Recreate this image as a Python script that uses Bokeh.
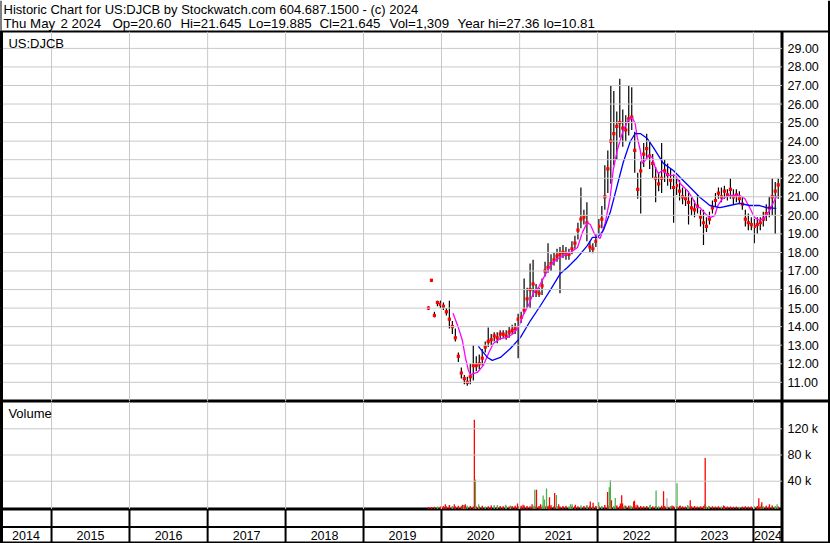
import pandas as pd
from bokeh.plotting import figure
from bokeh.layouts import column, row
from bokeh.models import Range1d, Span, Label
from bokeh.core.properties import value
from bokeh.embed import file_html
from bokeh.resources import INLINE

# ---------------- data ----------------
header1 = "Historic Chart for US:DJCB by Stockwatch.com 604.687.1500 - (c) 2024"
header2_parts = ["Thu May", "2 2024", "Op=20.60", "Hi=21.645", "Lo=19.885", "Cl=21.645",
                 "Vol=1,309", "Year hi=27.36", "lo=10.81"]
symbol = "US:DJCB"
volume_title = "Volume"

price_dates = pd.date_range("2019-11-01", periods=118, freq="14D")
close = [
    15.0, 16.5, 14.6, 15.3, 15.2, 15.1, 14.8, 14.4, 14.0, 13.4,
    12.4, 11.5, 11.2, 11.0, 11.3, 11.9, 11.9, 12.0, 12.3, 12.9,
    13.2, 13.3, 13.5, 13.4, 13.6, 13.6, 13.5, 13.7, 13.8, 13.9,
    14.4, 14.5, 14.9, 15.5, 16.0, 16.3, 15.9, 15.8, 16.2, 17.0,
    17.2, 17.4, 17.6, 17.8, 17.9, 18.0, 17.9, 17.9, 18.2, 18.5,
    19.2, 19.8, 19.9, 19.6, 18.3, 18.2, 18.6, 19.4, 19.8, 21.0,
    22.5, 24.0, 24.4, 24.8, 25.0, 24.7, 24.6, 25.2, 25.3, 23.5,
    21.4, 22.4, 23.3, 23.6, 23.2, 22.8, 22.0, 21.7, 22.0, 22.4,
    22.2, 21.9, 21.5, 21.6, 21.3, 21.0, 20.9, 20.7, 20.4, 20.3,
    20.5, 19.9, 19.6, 19.4, 19.8, 20.4, 20.8, 21.2, 21.0, 21.3,
    21.1, 21.4, 21.0, 21.1, 20.9, 20.6, 19.8, 19.6, 19.5, 19.4,
    19.5, 19.6, 19.8, 20.1, 20.4, 21.0, 21.3, 21.645]
high = [
    15.1, 16.5, 14.8, 15.4, 15.4, 15.3, 15.0, 15.4, 14.3, 13.9,
    12.6, 11.8, 11.4, 11.3, 12.0, 13.0, 12.4, 12.5, 12.8, 13.2,
    13.95, 13.6, 13.7, 13.7, 13.8, 13.8, 13.8, 14.0, 14.1, 14.2,
    14.7, 14.8, 16.6, 16.1, 17.4, 17.6, 16.3, 16.1, 16.6, 17.5,
    18.5, 17.9, 18.0, 18.2, 18.3, 18.4, 18.3, 18.2, 18.6, 18.9,
    19.6, 21.5, 20.3, 20.7, 18.6, 18.5, 19.0, 19.8, 20.5, 22.7,
    23.5, 27.0, 26.7, 25.6, 27.36, 25.7, 25.4, 27.0, 26.9, 24.5,
    22.3, 22.9, 23.9, 24.4, 24.0, 23.3, 22.6, 22.3, 23.9, 23.0,
    22.8, 22.5, 22.2, 22.0, 21.9, 21.5, 21.4, 21.3, 21.0, 20.8,
    21.1, 20.3, 20.3, 19.9, 20.2, 20.8, 21.2, 21.5, 21.5, 21.6,
    21.4, 22.0, 21.4, 21.4, 21.3, 21.0, 20.3, 20.1, 19.9, 19.8,
    19.9, 19.9, 20.2, 20.6, 21.0, 22.0, 21.8, 22.0]
low = [
    14.9, 16.4, 14.5, 15.1, 15.0, 14.9, 14.6, 13.9, 13.6, 13.2,
    12.1, 11.2, 10.9, 10.81, 10.9, 11.1, 11.6, 11.7, 11.9, 12.6,
    12.9, 13.0, 13.2, 13.1, 13.3, 13.4, 13.3, 13.4, 13.6, 13.6,
    12.3, 14.2, 14.7, 15.0, 15.0, 15.6, 15.6, 15.6, 15.7, 16.7,
    16.9, 17.0, 17.3, 17.5, 15.8, 17.7, 17.6, 17.6, 17.9, 18.2,
    18.7, 19.3, 19.5, 18.6, 18.0, 17.95, 18.3, 19.0, 19.3, 20.3,
    21.2, 21.7, 22.7, 23.0, 24.2, 23.7, 24.0, 24.3, 24.6, 22.3,
    20.9, 20.1, 22.6, 23.0, 22.5, 22.0, 20.7, 21.3, 21.2, 21.8,
    21.6, 21.4, 19.6, 21.1, 20.8, 20.6, 20.5, 19.5, 20.0, 19.9,
    20.1, 19.4, 18.4, 19.1, 19.5, 20.1, 20.5, 20.9, 20.7, 20.9,
    20.8, 20.9, 20.6, 20.7, 20.6, 20.3, 19.4, 19.2, 19.2, 18.5,
    19.0, 19.2, 19.4, 19.7, 19.9, 20.0, 19.0, 20.9]
base_volume_k = [
    0.8, 0.5, 1.0, 1.2, 1.5, 2.0, 1.8, 3.5, 2.2, 1.6,
    2.5, 1.8, 3.0, 2.4, 2.0, 1.5, 1.2, 1.8, 2.6, 1.4,
    1.9, 2.8, 3.2, 1.5, 2.2, 1.7, 2.5, 1.3, 2.0, 2.4,
    1.8, 2.6, 3.0, 2.2, 1.9, 2.5, 1.6, 2.1, 2.8, 1.7,
    2.4, 3.3, 1.8, 2.2, 1.5, 2.0, 2.6, 1.4, 1.9, 2.3,
    1.6, 2.8, 2.1, 3.0, 2.4, 1.8, 2.2, 2.6, 2.0, 3.5,
    2.8, 3.6, 2.4, 3.0, 2.2, 1.9, 2.7, 2.4, 1.8, 3.1,
    2.5, 2.0, 1.7, 2.3, 2.8, 1.6, 2.1, 1.9, 2.6, 2.2,
    1.5, 2.0, 1.8, 1.4, 2.2, 1.7, 1.3, 1.9, 1.6, 2.1,
    1.4, 1.8, 2.3, 1.5, 1.2, 1.7, 1.4, 1.9, 1.3, 1.6,
    1.2, 1.5, 1.1, 1.4, 1.0, 1.3, 1.6, 1.2, 1.4, 1.8,
    2.2, 1.5, 1.9, 2.4, 1.7, 2.8, 2.0, 1.3]
base_dir = list(
    "ddduddddud" "dddudddddu" "dduddduddd" "udddduddud" "dddudddudd"
    "duddduddud" "ddudduddud" "dddduddudd" "dudddddudd" "ddduddddud"
    "dddduddddu" "ddudddud")

spike_dates = [
    "2020-01-19", "2020-03-01", "2020-04-08", "2020-04-14", "2020-04-22",
    "2020-06-03", "2020-06-08", "2020-06-23", "2020-09-19", "2020-10-27",
    "2020-11-19", "2020-12-22", "2021-01-17", "2021-02-28", "2021-03-13",
    "2021-03-21", "2021-04-09", "2021-04-21", "2021-04-27", "2021-05-07",
    "2021-05-21", "2021-06-14", "2021-06-22", "2021-07-03", "2021-08-27",
    "2021-09-04", "2021-09-19", "2021-11-13", "2021-11-28", "2021-12-11",
    "2022-01-06", "2022-02-17", "2022-02-25", "2022-03-02", "2022-03-07",
    "2022-03-25", "2022-04-18", "2022-04-24", "2022-04-28", "2022-05-08",
    "2022-06-03", "2022-06-19", "2022-06-23", "2022-07-05", "2022-09-05",
    "2022-10-02", "2022-11-06", "2022-11-22", "2022-12-16", "2023-01-08",
    "2023-01-23", "2023-02-27", "2023-03-11", "2023-05-17", "2023-05-20",
    "2023-06-05", "2023-08-14", "2024-01-26", "2024-02-07", "2024-02-09",
    "2024-03-16", "2024-04-21"]
spike_volume_k = [
    5, 5, 4, 3.5, 5,
    134, 42.6, 5, 3.5, 4,
    3, 6, 4, 5, 27,
    27, 5, 18, 12, 28.7,
    15.4, 22, 19, 5, 5,
    5, 4, 3, 9.2, 7,
    7.7, 23.5, 30.7, 41.5, 11,
    14.3, 6, 18.5, 6, 3,
    3, 9, 10, 4, 4,
    26, 24.6, 13.8, 3, 36.9,
    3, 3.5, 10.8, 5, 75.4,
    2.5, 3, 13.8, 5, 8,
    5, 5]
spike_dir = list(
    "dddud" "duuuu" "udddu" "dduuu" "ddudu" "ududd" "uduud" "udddu"
    "udddu" "udfdu" "dudud" "uddud" "du")

# moving averages
ma_short_dates = [
    "2020-02-24", "2020-03-20", "2020-04-08", "2020-04-22", "2020-05-06", "2020-05-15",
    "2020-06-17", "2020-07-15", "2020-08-08", "2020-08-31", "2020-10-03", "2020-11-05",
    "2020-12-03", "2020-12-26", "2021-01-19", "2021-02-11", "2021-03-06", "2021-03-30",
    "2021-04-22", "2021-05-16", "2021-06-08", "2021-07-11", "2021-08-27", "2021-09-29",
    "2021-10-22", "2021-11-14", "2021-11-28", "2021-12-21", "2022-01-13", "2022-02-06",
    "2022-03-01", "2022-03-15", "2022-04-03", "2022-05-01", "2022-05-24", "2022-06-12",
    "2022-06-26", "2022-07-06", "2022-07-20", "2022-07-29", "2022-08-12", "2022-08-26",
    "2022-09-14", "2022-09-28", "2022-10-12", "2022-10-31", "2022-11-14", "2022-11-28",
    "2022-12-31", "2023-01-23", "2023-02-25", "2023-03-20", "2023-04-12", "2023-04-26",
    "2023-05-19", "2023-06-11", "2023-07-04", "2023-07-18", "2023-08-10", "2023-09-12",
    "2023-10-29", "2023-11-21", "2023-12-14", "2024-01-06", "2024-01-30", "2024-02-22",
    "2024-03-16", "2024-04-08", "2024-04-22"]
ma_short = [
    14.72, 13.95, 13.25, 12.34, 11.64, 11.42, 11.53, 11.91, 12.55, 13.09,
    13.36, 13.42, 13.63, 13.95, 14.65, 15.14, 15.79, 16.11, 16.60, 17.13,
    17.51, 17.73, 18.00, 18.27, 19.08, 19.61, 19.51, 18.91, 18.75, 19.61,
    20.96, 22.42, 23.50, 24.57, 25.11, 25.27, 24.95, 24.20, 23.50, 22.80,
    22.96, 23.23, 23.12, 22.58, 22.26, 22.42, 22.31, 22.15, 22.15, 21.72,
    21.34, 20.96, 20.42, 20.42, 20.10, 19.88, 19.99, 20.53, 20.91, 21.07,
    21.07, 20.91, 20.42, 19.88, 19.72, 19.88, 20.26, 20.80, 21.07]
ma_long_dates = [
    "2020-06-22", "2020-08-03", "2020-08-26", "2020-10-03", "2020-11-19", "2021-01-05",
    "2021-02-21", "2021-04-09", "2021-05-26", "2021-07-11", "2021-08-13", "2021-09-29",
    "2021-11-14", "2021-12-08", "2021-12-31", "2022-01-28", "2022-03-01", "2022-04-03",
    "2022-05-01", "2022-06-03", "2022-06-26", "2022-07-20", "2022-08-22", "2022-09-19",
    "2022-11-05", "2022-12-22", "2023-01-23", "2023-03-11", "2023-04-26", "2023-06-11",
    "2023-07-28", "2023-09-12", "2023-10-29", "2023-12-14", "2024-01-30", "2024-03-02",
    "2024-04-17"]
ma_long = [
    12.94, 12.34, 12.18, 12.34, 12.82, 13.42, 14.33, 15.14, 16.00, 16.87,
    17.19, 17.73, 18.37, 18.81, 18.81, 19.18, 20.15, 21.61, 22.85, 23.98,
    24.41, 24.41, 24.14, 23.66, 22.80, 22.42, 22.04, 21.50, 20.96, 20.53,
    20.42, 20.53, 20.64, 20.53, 20.53, 20.42, 20.37]

price_ticks = [29, 28, 27, 26, 25, 24, 23, 22, 21, 20, 19, 18, 17, 16, 15, 14, 13, 12, 11]
price_tick_labels = ["29.00", "28.00", "27.00", "26.00", "25.00", "24.00", "23.00", "22.00",
                     "21.00", "20.00", "19.00", "18.00", "17.00", "16.00", "15.00", "14.00",
                     "13.00", "12.00", "11.00"]
volume_ticks = [120000, 80000, 40000]
volume_tick_labels = ["120 k", "80 k", "40 k"]
years = [2014, 2015, 2016, 2017, 2018, 2019, 2020, 2021, 2022, 2023, 2024]
year_labels = ["2014", "2015", "2016", "2017", "2018", "2019", "2020", "2021", "2022", "2023", "2024"]

# ---------------- layout / style ----------------
FONT_NAME = "Liberation Sans"
FONT = value(FONT_NAME)
MAIN_W, AX_W = 782, 48
HDR_H, PRICE_H, VOL_H, YEAR_H = 31, 370, 108, 34
GRID = "#c8c8c8"
RED, GREEN, GRAY = "#ff0000", "#4cb04c", "#a8a8a8"
DIR_COLOR = {"u": GREEN, "d": RED, "f": GRAY}
DAY = 86400000
# left edges (px) of the fields of the second header line
header2_x = [3, 60, 112, 180, 248, 319, 389, 457, 543]

x_start = pd.Timestamp("2014-05-07")
x_end = pd.Timestamp("2024-05-16")
xr = Range1d(x_start, x_end)
price_yr = Range1d(9.965, 29.91)
vol_yr = Range1d(-3200, 161700)
x0_ms = x_start.timestamp() * 1000
label_x = x0_ms + 37 * DAY

common = dict(toolbar_location=None, output_backend="svg", min_border=0,
              background_fill_color="white", border_fill_color="white",
              outline_line_color="black", outline_line_width=2)

year_bounds = [pd.Timestamp(f"{y}-01-01") for y in years[1:]]

def add_grids(p, yticks):
    for b in year_bounds:
        p.add_layout(Span(location=b.timestamp() * 1000, dimension="height",
                          line_color=GRID, line_width=1))
    for t in yticks:
        p.add_layout(Span(location=t, dimension="width", line_color=GRID, line_width=1))

def left_edge(p):
    p.add_layout(Span(location=x0_ms, dimension="height", line_color="black", line_width=5))

# header
hdr = figure(width=MAIN_W + AX_W, height=HDR_H, x_range=Range1d(0, MAIN_W + AX_W),
             y_range=Range1d(0, HDR_H), x_axis_location=None, y_axis_location=None, **common)
hdr.outline_line_color = None
hdr.grid.visible = False
hdr.text(x=[3], y=[HDR_H - 9], text=[header1],
         text_font=FONT, text_font_size="13px", text_baseline="middle", text_color="black")
hdr.text(x=header2_x, y=[HDR_H - 23] * len(header2_parts), text=header2_parts,
         text_font=FONT, text_font_size="13.3px", text_baseline="middle", text_color="black")
hdr.add_layout(Span(location=0, dimension="height", line_color="black", line_width=2))
hdr.add_layout(Span(location=MAIN_W + AX_W, dimension="height", line_color="black", line_width=5))
hdr.add_layout(Span(location=0, dimension="width", line_color="black", line_width=2))

# price panel
pp = figure(width=MAIN_W, height=PRICE_H, x_range=xr, y_range=price_yr, x_axis_type="datetime",
            x_axis_location=None, y_axis_location=None, **common)
pp.grid.visible = False
add_grids(pp, price_ticks)
left_edge(pp)
pp.segment(x0=price_dates, y0=low, x1=price_dates, y1=high, line_color="black", line_width=1.2)
pp.scatter(x=price_dates, y=close, marker="square", size=3.2, fill_color=RED, line_color=None)
pp.line(x=pd.to_datetime(ma_short_dates), y=ma_short, line_color="#ff00ff", line_width=1.3)
pp.line(x=pd.to_datetime(ma_long_dates), y=ma_long, line_color="#0000ff", line_width=1.3)
pp.add_layout(Label(x=label_x, y=29.26, text=symbol, text_font=FONT_NAME,
                    text_font_size="13px", text_baseline="middle", text_color="black"))

pax = figure(width=AX_W, height=PRICE_H, x_range=Range1d(0, AX_W), y_range=price_yr,
             x_axis_location=None, y_axis_location=None, **common)
pax.grid.visible = False
pax.add_layout(Span(location=AX_W, dimension="height", line_color="black", line_width=5))
pax.text(x=[5] * len(price_ticks), y=price_ticks, text=price_tick_labels, text_font=FONT,
         text_font_size="12.5px", text_baseline="middle", text_align="left", text_color="black")

# volume panel
vp = figure(width=MAIN_W, height=VOL_H, x_range=xr, y_range=vol_yr, x_axis_type="datetime",
            x_axis_location=None, y_axis_location=None, **common)
vp.grid.visible = False
add_grids(vp, volume_ticks)
left_edge(vp)
vp.vbar(x=price_dates, bottom=vol_yr.start, top=[v * 1000 for v in base_volume_k], width=7 * DAY,
        fill_color=[DIR_COLOR[d] for d in base_dir], line_color=None)
vp.vbar(x=pd.to_datetime(spike_dates), bottom=vol_yr.start, top=[v * 1000 for v in spike_volume_k],
        width=6 * DAY, fill_color=[DIR_COLOR[d] for d in spike_dir], line_color=None)
vp.add_layout(Label(x=label_x, y=143500, text=volume_title, text_font=FONT_NAME,
                    text_font_size="13px", text_baseline="middle", text_color="black"))

# year strip
yp = figure(width=MAIN_W, height=YEAR_H, x_range=xr, y_range=Range1d(0, 2), x_axis_type="datetime",
            x_axis_location=None, y_axis_location=None, **common)
yp.grid.visible = False
left_edge(yp)
yp.segment(x0=year_bounds, y0=[0] * len(year_bounds), x1=year_bounds, y1=[2] * len(year_bounds),
           line_color="black", line_width=2)
yp.add_layout(Span(location=0.97, dimension="width", line_color="black", line_width=2))
mids = []
for y in years:
    a = max(pd.Timestamp(f"{y}-01-01"), x_start)
    b = min(pd.Timestamp(f"{y + 1}-01-01"), x_end)
    mids.append(a + (b - a) / 2)
yp.text(x=mids, y=[0.47] * len(mids), text=year_labels, text_font=FONT, text_font_size="12.5px",
        text_baseline="middle", text_align="center", text_color="black")

# volume axis strip (covers volume + year rows)
per_px = (vol_yr.end - vol_yr.start) / VOL_H
vax = figure(width=AX_W, height=VOL_H + YEAR_H, x_range=Range1d(0, AX_W),
             y_range=Range1d(vol_yr.start - YEAR_H * per_px, vol_yr.end),
             x_axis_location=None, y_axis_location=None, **common)
vax.grid.visible = False
vax.add_layout(Span(location=AX_W, dimension="height", line_color="black", line_width=5))
vax.text(x=[5] * len(volume_ticks), y=volume_ticks, text=volume_tick_labels, text_font=FONT,
         text_font_size="12.5px", text_baseline="middle", text_align="left", text_color="black")

layout = column(hdr, row(pp, pax), row(column(vp, yp), vax))

open("out.html", "w").write(file_html(layout, INLINE))
